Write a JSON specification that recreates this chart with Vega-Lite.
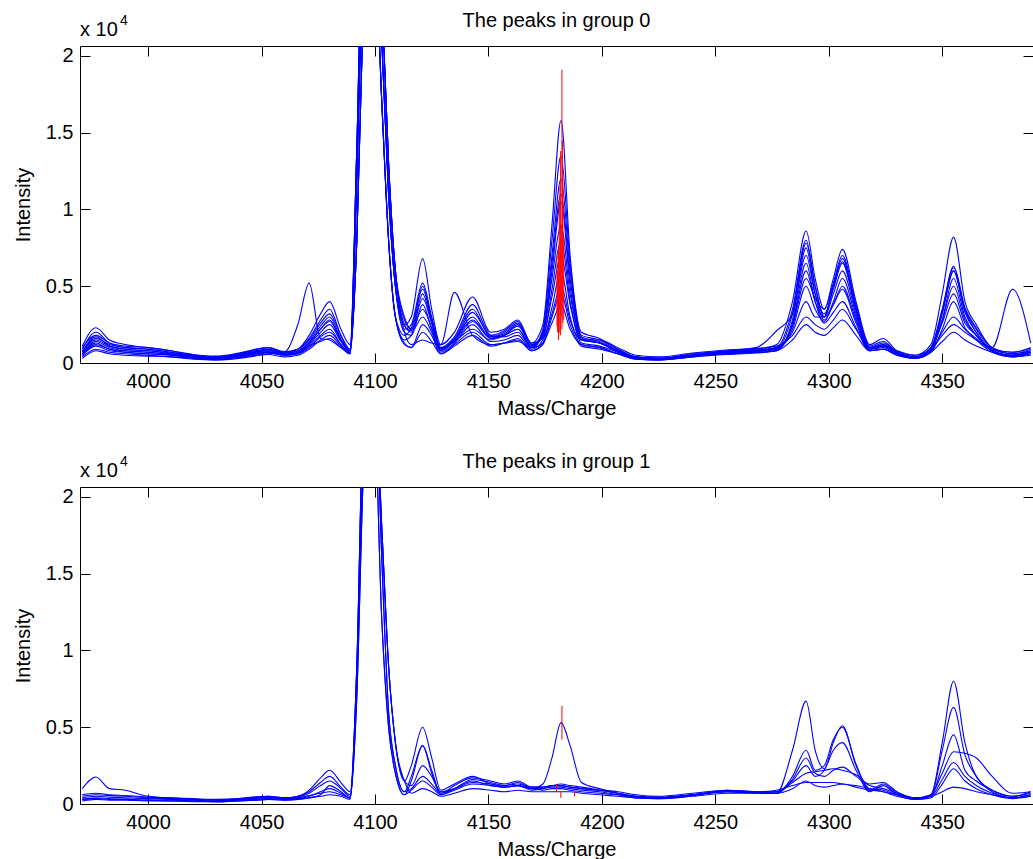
{
"$schema": "https://vega.github.io/schema/vega-lite/v6.json",
"padding": {"left": 12, "top": 10, "right": 0, "bottom": 0},
"background": "white",
"bounds": "flush",
"spacing": 124,
"config": {
  "view": {"stroke": "#000", "strokeWidth": 1},
  "font": "Liberation Sans",
  "axis": {"labelFont": "Liberation Sans", "labelFontSize": 20, "labelColor": "#000", "titleFont": "Liberation Sans", "titleFontSize": 20, "titleFontWeight": "normal", "titleColor": "#000", "tickColor": "#000", "domain": false, "grid": false, "tickSize": -10, "ticks": true, "labelFlush": false, "labelOverlap": false}
},
"datasets": {
"lab": [{"t": "x 10", "e": "4", "h0": "The peaks in group 0", "h1": "The peaks in group 1"}],
"pk0": [
{"x":4182.4,"y1":2200,"y2":19100},{"x":4181.8,"y1":1800,"y2":13800},{"x":4182.8,"y1":2600,"y2":12000},{"x":4181.2,"y1":2000,"y2":10500},{"x":4182.1,"y1":3000,"y2":9000},{"x":4180.9,"y1":1500,"y2":7500},{"x":4183.2,"y1":2800,"y2":8200},{"x":4180.5,"y1":2000,"y2":6000},{"x":4181.5,"y1":3500,"y2":11500},{"x":4182.6,"y1":4000,"y2":14500},{"x":4181.0,"y1":1900,"y2":5500},{"x":4180.2,"y1":2400,"y2":7000}
],
"pk1": [
{"x":4182.4,"y1":4200,"y2":6400},{"x":4180.0,"y1":850,"y2":1300},{"x":4181.9,"y1":400,"y2":800},{"x":4187.9,"y1":500,"y2":870}
],
"g0": [
{"s":1,"x":3971,"y":900},{"s":1,"x":3977,"y":2000},{"s":1,"x":3983,"y":1300},{"s":1,"x":3990,"y":1000},{"s":1,"x":4000,"y":900},{"s":1,"x":4010,"y":700},{"s":1,"x":4020,"y":500},{"s":1,"x":4030,"y":400},{"s":1,"x":4040,"y":600},{"s":1,"x":4047,"y":800},{"s":1,"x":4053,"y":900},{"s":1,"x":4060,"y":700},{"s":1,"x":4066,"y":900},{"s":1,"x":4071,"y":1600},{"s":1,"x":4076,"y":2800},{"s":1,"x":4080,"y":3500},{"s":1,"x":4085,"y":1800},{"s":1,"x":4089,"y":900},{"s":1,"x":4092,"y":12000},{"s":1,"x":4095,"y":28000},{"s":1,"x":4099,"y":36000},{"s":1,"x":4103,"y":21000},{"s":1,"x":4106,"y":11000},{"s":1,"x":4109,"y":5000},{"s":1,"x":4113,"y":2500},{"s":1,"x":4116,"y":3000},{"s":1,"x":4121,"y":6800},{"s":1,"x":4125,"y":3500},{"s":1,"x":4129,"y":1200},{"s":1,"x":4135,"y":2000},{"s":1,"x":4143,"y":4300},{"s":1,"x":4151,"y":2000},{"s":1,"x":4157,"y":2200},{"s":1,"x":4163,"y":2800},{"s":1,"x":4169,"y":1300},{"s":1,"x":4174,"y":2500},{"s":1,"x":4178,"y":9000},{"s":1,"x":4182,"y":15800},{"s":1,"x":4186,"y":7000},{"s":1,"x":4191,"y":2000},{"s":1,"x":4199,"y":1600},{"s":1,"x":4207,"y":900},{"s":1,"x":4215,"y":400},{"s":1,"x":4225,"y":300},{"s":1,"x":4240,"y":600},{"s":1,"x":4255,"y":800},{"s":1,"x":4268,"y":900},{"s":1,"x":4277,"y":1200},{"s":1,"x":4284,"y":4000},{"s":1,"x":4290,"y":8600},{"s":1,"x":4294,"y":5500},{"s":1,"x":4298,"y":3500},{"s":1,"x":4302,"y":5500},{"s":1,"x":4306,"y":7400},{"s":1,"x":4312,"y":4000},{"s":1,"x":4318,"y":1200},{"s":1,"x":4324,"y":1600},{"s":1,"x":4330,"y":800},{"s":1,"x":4338,"y":500},{"s":1,"x":4345,"y":1200},{"s":1,"x":4350,"y":4500},{"s":1,"x":4355,"y":8200},{"s":1,"x":4360,"y":4000},{"s":1,"x":4365,"y":2500},{"s":1,"x":4372,"y":1000},{"s":1,"x":4381,"y":700},{"s":1,"x":4389,"y":1000},
{"s":2,"x":3971,"y":700},{"s":2,"x":3977,"y":1700},{"s":2,"x":3983,"y":1100},{"s":2,"x":3990,"y":900},{"s":2,"x":4000,"y":800},{"s":2,"x":4010,"y":600},{"s":2,"x":4020,"y":400},{"s":2,"x":4030,"y":300},{"s":2,"x":4040,"y":500},{"s":2,"x":4047,"y":700},{"s":2,"x":4053,"y":800},{"s":2,"x":4060,"y":600},{"s":2,"x":4066,"y":700},{"s":2,"x":4071,"y":1300},{"s":2,"x":4076,"y":2200},{"s":2,"x":4080,"y":2800},{"s":2,"x":4085,"y":1500},{"s":2,"x":4089,"y":700},{"s":2,"x":4092,"y":8000},{"s":2,"x":4095,"y":24000},{"s":2,"x":4099,"y":34000},{"s":2,"x":4103,"y":24000},{"s":2,"x":4106,"y":13000},{"s":2,"x":4109,"y":6000},{"s":2,"x":4113,"y":3000},{"s":2,"x":4116,"y":2200},{"s":2,"x":4121,"y":5000},{"s":2,"x":4125,"y":2800},{"s":2,"x":4129,"y":900},{"s":2,"x":4135,"y":1600},{"s":2,"x":4143,"y":3500},{"s":2,"x":4151,"y":1700},{"s":2,"x":4157,"y":1900},{"s":2,"x":4163,"y":2500},{"s":2,"x":4169,"y":1100},{"s":2,"x":4174,"y":2000},{"s":2,"x":4178,"y":6500},{"s":2,"x":4182,"y":11000},{"s":2,"x":4186,"y":5500},{"s":2,"x":4191,"y":1700},{"s":2,"x":4199,"y":1400},{"s":2,"x":4207,"y":800},{"s":2,"x":4215,"y":350},{"s":2,"x":4225,"y":300},{"s":2,"x":4240,"y":500},{"s":2,"x":4255,"y":700},{"s":2,"x":4268,"y":800},{"s":2,"x":4277,"y":1000},{"s":2,"x":4284,"y":3500},{"s":2,"x":4290,"y":8000},{"s":2,"x":4294,"y":5000},{"s":2,"x":4298,"y":3000},{"s":2,"x":4302,"y":5000},{"s":2,"x":4306,"y":6800},{"s":2,"x":4312,"y":3600},{"s":2,"x":4318,"y":1000},{"s":2,"x":4324,"y":1300},{"s":2,"x":4330,"y":700},{"s":2,"x":4338,"y":400},{"s":2,"x":4345,"y":1000},{"s":2,"x":4350,"y":3500},{"s":2,"x":4355,"y":6200},{"s":2,"x":4360,"y":3500},{"s":2,"x":4365,"y":2200},{"s":2,"x":4372,"y":900},{"s":2,"x":4381,"y":600},{"s":2,"x":4389,"y":800},
{"s":3,"x":3971,"y":1100},{"s":3,"x":3977,"y":2300},{"s":3,"x":3983,"y":1500},{"s":3,"x":3990,"y":1200},{"s":3,"x":4000,"y":1000},{"s":3,"x":4010,"y":800},{"s":3,"x":4020,"y":500},{"s":3,"x":4030,"y":400},{"s":3,"x":4040,"y":600},{"s":3,"x":4047,"y":900},{"s":3,"x":4053,"y":1000},{"s":3,"x":4060,"y":700},{"s":3,"x":4066,"y":900},{"s":3,"x":4071,"y":1800},{"s":3,"x":4076,"y":3200},{"s":3,"x":4080,"y":4000},{"s":3,"x":4085,"y":2200},{"s":3,"x":4089,"y":1200},{"s":3,"x":4092,"y":14000},{"s":3,"x":4095,"y":30000},{"s":3,"x":4099,"y":30000},{"s":3,"x":4103,"y":17000},{"s":3,"x":4106,"y":8000},{"s":3,"x":4109,"y":3000},{"s":3,"x":4113,"y":1500},{"s":3,"x":4116,"y":1800},{"s":3,"x":4121,"y":4500},{"s":3,"x":4125,"y":2600},{"s":3,"x":4129,"y":800},{"s":3,"x":4135,"y":1500},{"s":3,"x":4143,"y":3000},{"s":3,"x":4151,"y":1600},{"s":3,"x":4157,"y":1800},{"s":3,"x":4163,"y":2200},{"s":3,"x":4169,"y":1000},{"s":3,"x":4174,"y":1800},{"s":3,"x":4178,"y":6000},{"s":3,"x":4182,"y":10500},{"s":3,"x":4186,"y":5000},{"s":3,"x":4191,"y":1500},{"s":3,"x":4199,"y":1300},{"s":3,"x":4207,"y":700},{"s":3,"x":4215,"y":300},{"s":3,"x":4225,"y":250},{"s":3,"x":4240,"y":500},{"s":3,"x":4255,"y":800},{"s":3,"x":4268,"y":1000},{"s":3,"x":4277,"y":2100},{"s":3,"x":4284,"y":3200},{"s":3,"x":4290,"y":7000},{"s":3,"x":4294,"y":4500},{"s":3,"x":4298,"y":3200},{"s":3,"x":4302,"y":4800},{"s":3,"x":4306,"y":6500},{"s":3,"x":4312,"y":3400},{"s":3,"x":4318,"y":900},{"s":3,"x":4324,"y":1200},{"s":3,"x":4330,"y":600},{"s":3,"x":4338,"y":350},{"s":3,"x":4345,"y":900},{"s":3,"x":4350,"y":3300},{"s":3,"x":4355,"y":6000},{"s":3,"x":4360,"y":3400},{"s":3,"x":4365,"y":2000},{"s":3,"x":4372,"y":800},{"s":3,"x":4381,"y":500},{"s":3,"x":4389,"y":700},
{"s":4,"x":3971,"y":500},{"s":4,"x":3977,"y":1200},{"s":4,"x":3983,"y":900},{"s":4,"x":3990,"y":700},{"s":4,"x":4000,"y":600},{"s":4,"x":4010,"y":500},{"s":4,"x":4020,"y":350},{"s":4,"x":4030,"y":250},{"s":4,"x":4040,"y":400},{"s":4,"x":4047,"y":600},{"s":4,"x":4053,"y":700},{"s":4,"x":4060,"y":500},{"s":4,"x":4066,"y":600},{"s":4,"x":4071,"y":1000},{"s":4,"x":4076,"y":1700},{"s":4,"x":4080,"y":2000},{"s":4,"x":4085,"y":1200},{"s":4,"x":4089,"y":600},{"s":4,"x":4092,"y":12000},{"s":4,"x":4095,"y":28000},{"s":4,"x":4099,"y":36000},{"s":4,"x":4103,"y":21000},{"s":4,"x":4106,"y":11000},{"s":4,"x":4109,"y":5000},{"s":4,"x":4113,"y":2000},{"s":4,"x":4116,"y":1800},{"s":4,"x":4121,"y":3800},{"s":4,"x":4125,"y":2200},{"s":4,"x":4129,"y":700},{"s":4,"x":4135,"y":1300},{"s":4,"x":4143,"y":2500},{"s":4,"x":4151,"y":1400},{"s":4,"x":4157,"y":1500},{"s":4,"x":4163,"y":1800},{"s":4,"x":4169,"y":900},{"s":4,"x":4174,"y":1500},{"s":4,"x":4178,"y":4800},{"s":4,"x":4182,"y":8000},{"s":4,"x":4186,"y":4000},{"s":4,"x":4191,"y":1300},{"s":4,"x":4199,"y":1100},{"s":4,"x":4207,"y":700},{"s":4,"x":4215,"y":300},{"s":4,"x":4225,"y":200},{"s":4,"x":4240,"y":450},{"s":4,"x":4255,"y":650},{"s":4,"x":4268,"y":750},{"s":4,"x":4277,"y":900},{"s":4,"x":4284,"y":2500},{"s":4,"x":4290,"y":6000},{"s":4,"x":4294,"y":4000},{"s":4,"x":4298,"y":3000},{"s":4,"x":4302,"y":4500},{"s":4,"x":4306,"y":6000},{"s":4,"x":4312,"y":3200},{"s":4,"x":4318,"y":900},{"s":4,"x":4324,"y":1000},{"s":4,"x":4330,"y":600},{"s":4,"x":4338,"y":300},{"s":4,"x":4345,"y":800},{"s":4,"x":4350,"y":2800},{"s":4,"x":4355,"y":5000},{"s":4,"x":4360,"y":2800},{"s":4,"x":4365,"y":1800},{"s":4,"x":4372,"y":800},{"s":4,"x":4381,"y":450},{"s":4,"x":4389,"y":600},
{"s":5,"x":3971,"y":800},{"s":5,"x":3977,"y":1600},{"s":5,"x":3983,"y":1200},{"s":5,"x":3990,"y":1000},{"s":5,"x":4000,"y":900},{"s":5,"x":4010,"y":700},{"s":5,"x":4020,"y":450},{"s":5,"x":4030,"y":350},{"s":5,"x":4040,"y":550},{"s":5,"x":4047,"y":750},{"s":5,"x":4053,"y":900},{"s":5,"x":4060,"y":650},{"s":5,"x":4066,"y":800},{"s":5,"x":4071,"y":1400},{"s":5,"x":4076,"y":2400},{"s":5,"x":4080,"y":3000},{"s":5,"x":4085,"y":1600},{"s":5,"x":4089,"y":800},{"s":5,"x":4092,"y":8000},{"s":5,"x":4095,"y":24000},{"s":5,"x":4099,"y":34000},{"s":5,"x":4103,"y":24000},{"s":5,"x":4106,"y":13000},{"s":5,"x":4109,"y":6000},{"s":5,"x":4113,"y":2500},{"s":5,"x":4116,"y":2000},{"s":5,"x":4121,"y":3000},{"s":5,"x":4125,"y":2000},{"s":5,"x":4129,"y":800},{"s":5,"x":4135,"y":1500},{"s":5,"x":4143,"y":2800},{"s":5,"x":4151,"y":1700},{"s":5,"x":4157,"y":2000},{"s":5,"x":4163,"y":2600},{"s":5,"x":4169,"y":1200},{"s":5,"x":4174,"y":1700},{"s":5,"x":4178,"y":4300},{"s":5,"x":4182,"y":7000},{"s":5,"x":4186,"y":3800},{"s":5,"x":4191,"y":1500},{"s":5,"x":4199,"y":1300},{"s":5,"x":4207,"y":800},{"s":5,"x":4215,"y":400},{"s":5,"x":4225,"y":300},{"s":5,"x":4240,"y":550},{"s":5,"x":4255,"y":750},{"s":5,"x":4268,"y":850},{"s":5,"x":4277,"y":1000},{"s":5,"x":4284,"y":2200},{"s":5,"x":4290,"y":5000},{"s":5,"x":4294,"y":3500},{"s":5,"x":4298,"y":2700},{"s":5,"x":4302,"y":4000},{"s":5,"x":4306,"y":5500},{"s":5,"x":4312,"y":3000},{"s":5,"x":4318,"y":1000},{"s":5,"x":4324,"y":1100},{"s":5,"x":4330,"y":700},{"s":5,"x":4338,"y":400},{"s":5,"x":4345,"y":1000},{"s":5,"x":4350,"y":3400},{"s":5,"x":4355,"y":6300},{"s":5,"x":4360,"y":3600},{"s":5,"x":4365,"y":2300},{"s":5,"x":4372,"y":1000},{"s":5,"x":4381,"y":600},{"s":5,"x":4389,"y":900},
{"s":6,"x":3971,"y":400},{"s":6,"x":3977,"y":900},{"s":6,"x":3983,"y":700},{"s":6,"x":3990,"y":600},{"s":6,"x":4000,"y":500},{"s":6,"x":4010,"y":400},{"s":6,"x":4020,"y":300},{"s":6,"x":4030,"y":200},{"s":6,"x":4040,"y":350},{"s":6,"x":4047,"y":500},{"s":6,"x":4053,"y":600},{"s":6,"x":4060,"y":700},{"s":6,"x":4066,"y":2500},{"s":6,"x":4071,"y":5200},{"s":6,"x":4076,"y":1600},{"s":6,"x":4080,"y":1500},{"s":6,"x":4085,"y":1000},{"s":6,"x":4089,"y":700},{"s":6,"x":4092,"y":14000},{"s":6,"x":4095,"y":30000},{"s":6,"x":4099,"y":30000},{"s":6,"x":4103,"y":17000},{"s":6,"x":4106,"y":8000},{"s":6,"x":4109,"y":3000},{"s":6,"x":4113,"y":1200},{"s":6,"x":4116,"y":1000},{"s":6,"x":4121,"y":2500},{"s":6,"x":4125,"y":1800},{"s":6,"x":4129,"y":600},{"s":6,"x":4135,"y":1200},{"s":6,"x":4143,"y":2000},{"s":6,"x":4151,"y":1200},{"s":6,"x":4157,"y":1300},{"s":6,"x":4163,"y":1500},{"s":6,"x":4169,"y":800},{"s":6,"x":4174,"y":1300},{"s":6,"x":4178,"y":3600},{"s":6,"x":4182,"y":6000},{"s":6,"x":4186,"y":3000},{"s":6,"x":4191,"y":1200},{"s":6,"x":4199,"y":1000},{"s":6,"x":4207,"y":600},{"s":6,"x":4215,"y":250},{"s":6,"x":4225,"y":200},{"s":6,"x":4240,"y":400},{"s":6,"x":4255,"y":600},{"s":6,"x":4268,"y":700},{"s":6,"x":4277,"y":800},{"s":6,"x":4284,"y":2800},{"s":6,"x":4290,"y":7500},{"s":6,"x":4294,"y":4500},{"s":6,"x":4298,"y":2800},{"s":6,"x":4302,"y":3800},{"s":6,"x":4306,"y":4800},{"s":6,"x":4312,"y":2600},{"s":6,"x":4318,"y":800},{"s":6,"x":4324,"y":900},{"s":6,"x":4330,"y":500},{"s":6,"x":4338,"y":300},{"s":6,"x":4345,"y":700},{"s":6,"x":4350,"y":2200},{"s":6,"x":4355,"y":4000},{"s":6,"x":4360,"y":2300},{"s":6,"x":4365,"y":1500},{"s":6,"x":4372,"y":700},{"s":6,"x":4381,"y":400},{"s":6,"x":4389,"y":500},
{"s":7,"x":3971,"y":600},{"s":7,"x":3977,"y":1400},{"s":7,"x":3983,"y":1000},{"s":7,"x":3990,"y":800},{"s":7,"x":4000,"y":700},{"s":7,"x":4010,"y":550},{"s":7,"x":4020,"y":400},{"s":7,"x":4030,"y":300},{"s":7,"x":4040,"y":450},{"s":7,"x":4047,"y":650},{"s":7,"x":4053,"y":750},{"s":7,"x":4060,"y":550},{"s":7,"x":4066,"y":650},{"s":7,"x":4071,"y":1200},{"s":7,"x":4076,"y":2000},{"s":7,"x":4080,"y":2500},{"s":7,"x":4085,"y":1400},{"s":7,"x":4089,"y":700},{"s":7,"x":4092,"y":12000},{"s":7,"x":4095,"y":28000},{"s":7,"x":4099,"y":36000},{"s":7,"x":4103,"y":21000},{"s":7,"x":4106,"y":11000},{"s":7,"x":4109,"y":5000},{"s":7,"x":4113,"y":2200},{"s":7,"x":4116,"y":2500},{"s":7,"x":4121,"y":5200},{"s":7,"x":4125,"y":3000},{"s":7,"x":4129,"y":1000},{"s":7,"x":4135,"y":1700},{"s":7,"x":4143,"y":3800},{"s":7,"x":4151,"y":1800},{"s":7,"x":4157,"y":1700},{"s":7,"x":4163,"y":2000},{"s":7,"x":4169,"y":1000},{"s":7,"x":4174,"y":2200},{"s":7,"x":4178,"y":8000},{"s":7,"x":4182,"y":13500},{"s":7,"x":4186,"y":6500},{"s":7,"x":4191,"y":1800},{"s":7,"x":4199,"y":1500},{"s":7,"x":4207,"y":900},{"s":7,"x":4215,"y":400},{"s":7,"x":4225,"y":300},{"s":7,"x":4240,"y":500},{"s":7,"x":4255,"y":700},{"s":7,"x":4268,"y":800},{"s":7,"x":4277,"y":900},{"s":7,"x":4284,"y":2000},{"s":7,"x":4290,"y":4000},{"s":7,"x":4294,"y":3000},{"s":7,"x":4298,"y":3000},{"s":7,"x":4302,"y":5000},{"s":7,"x":4306,"y":6600},{"s":7,"x":4312,"y":3500},{"s":7,"x":4318,"y":1100},{"s":7,"x":4324,"y":1400},{"s":7,"x":4330,"y":700},{"s":7,"x":4338,"y":400},{"s":7,"x":4345,"y":800},{"s":7,"x":4350,"y":2000},{"s":7,"x":4355,"y":3000},{"s":7,"x":4360,"y":2200},{"s":7,"x":4365,"y":1600},{"s":7,"x":4372,"y":800},{"s":7,"x":4381,"y":500},{"s":7,"x":4389,"y":700},
{"s":8,"x":3971,"y":1000},{"s":8,"x":3977,"y":1800},{"s":8,"x":3983,"y":1300},{"s":8,"x":3990,"y":1100},{"s":8,"x":4000,"y":1000},{"s":8,"x":4010,"y":800},{"s":8,"x":4020,"y":550},{"s":8,"x":4030,"y":450},{"s":8,"x":4040,"y":650},{"s":8,"x":4047,"y":850},{"s":8,"x":4053,"y":1000},{"s":8,"x":4060,"y":750},{"s":8,"x":4066,"y":900},{"s":8,"x":4071,"y":1500},{"s":8,"x":4076,"y":2600},{"s":8,"x":4080,"y":3200},{"s":8,"x":4085,"y":1800},{"s":8,"x":4089,"y":900},{"s":8,"x":4092,"y":8000},{"s":8,"x":4095,"y":24000},{"s":8,"x":4099,"y":34000},{"s":8,"x":4103,"y":24000},{"s":8,"x":4106,"y":13000},{"s":8,"x":4109,"y":6000},{"s":8,"x":4113,"y":2800},{"s":8,"x":4116,"y":2200},{"s":8,"x":4121,"y":3500},{"s":8,"x":4125,"y":2300},{"s":8,"x":4129,"y":1000},{"s":8,"x":4135,"y":1400},{"s":8,"x":4143,"y":2200},{"s":8,"x":4151,"y":1500},{"s":8,"x":4157,"y":1800},{"s":8,"x":4163,"y":2400},{"s":8,"x":4169,"y":1300},{"s":8,"x":4174,"y":1600},{"s":8,"x":4178,"y":3200},{"s":8,"x":4182,"y":5000},{"s":8,"x":4186,"y":2800},{"s":8,"x":4191,"y":1500},{"s":8,"x":4199,"y":1500},{"s":8,"x":4207,"y":1000},{"s":8,"x":4215,"y":500},{"s":8,"x":4225,"y":400},{"s":8,"x":4240,"y":650},{"s":8,"x":4255,"y":850},{"s":8,"x":4268,"y":950},{"s":8,"x":4277,"y":1100},{"s":8,"x":4284,"y":1800},{"s":8,"x":4290,"y":3000},{"s":8,"x":4294,"y":2500},{"s":8,"x":4298,"y":2200},{"s":8,"x":4302,"y":2800},{"s":8,"x":4306,"y":3500},{"s":8,"x":4312,"y":2200},{"s":8,"x":4318,"y":1000},{"s":8,"x":4324,"y":1100},{"s":8,"x":4330,"y":800},{"s":8,"x":4338,"y":500},{"s":8,"x":4345,"y":900},{"s":8,"x":4350,"y":1800},{"s":8,"x":4355,"y":2500},{"s":8,"x":4360,"y":2000},{"s":8,"x":4365,"y":1500},{"s":8,"x":4372,"y":900},{"s":8,"x":4381,"y":700},{"s":8,"x":4389,"y":1000},
{"s":9,"x":3971,"y":300},{"s":9,"x":3977,"y":800},{"s":9,"x":3983,"y":600},{"s":9,"x":3990,"y":500},{"s":9,"x":4000,"y":450},{"s":9,"x":4010,"y":400},{"s":9,"x":4020,"y":250},{"s":9,"x":4030,"y":200},{"s":9,"x":4040,"y":300},{"s":9,"x":4047,"y":450},{"s":9,"x":4053,"y":550},{"s":9,"x":4060,"y":400},{"s":9,"x":4066,"y":500},{"s":9,"x":4071,"y":900},{"s":9,"x":4076,"y":1500},{"s":9,"x":4080,"y":1800},{"s":9,"x":4085,"y":1100},{"s":9,"x":4089,"y":600},{"s":9,"x":4092,"y":14000},{"s":9,"x":4095,"y":30000},{"s":9,"x":4099,"y":30000},{"s":9,"x":4103,"y":17000},{"s":9,"x":4106,"y":8000},{"s":9,"x":4109,"y":3000},{"s":9,"x":4113,"y":1300},{"s":9,"x":4116,"y":1000},{"s":9,"x":4121,"y":2000},{"s":9,"x":4125,"y":1400},{"s":9,"x":4129,"y":600},{"s":9,"x":4135,"y":1100},{"s":9,"x":4143,"y":1800},{"s":9,"x":4151,"y":1100},{"s":9,"x":4157,"y":1300},{"s":9,"x":4163,"y":1600},{"s":9,"x":4169,"y":800},{"s":9,"x":4174,"y":1200},{"s":9,"x":4178,"y":3000},{"s":9,"x":4182,"y":4500},{"s":9,"x":4186,"y":2500},{"s":9,"x":4191,"y":1100},{"s":9,"x":4199,"y":900},{"s":9,"x":4207,"y":600},{"s":9,"x":4215,"y":250},{"s":9,"x":4225,"y":200},{"s":9,"x":4240,"y":400},{"s":9,"x":4255,"y":550},{"s":9,"x":4268,"y":650},{"s":9,"x":4277,"y":800},{"s":9,"x":4284,"y":2600},{"s":9,"x":4290,"y":6500},{"s":9,"x":4294,"y":4000},{"s":9,"x":4298,"y":2600},{"s":9,"x":4302,"y":3300},{"s":9,"x":4306,"y":4000},{"s":9,"x":4312,"y":2300},{"s":9,"x":4318,"y":800},{"s":9,"x":4324,"y":900},{"s":9,"x":4330,"y":500},{"s":9,"x":4338,"y":300},{"s":9,"x":4345,"y":800},{"s":9,"x":4350,"y":2800},{"s":9,"x":4355,"y":5500},{"s":9,"x":4360,"y":3000},{"s":9,"x":4365,"y":1800},{"s":9,"x":4372,"y":1000},{"s":9,"x":4381,"y":4800},{"s":9,"x":4389,"y":1300},
{"s":10,"x":3971,"y":700},{"s":10,"x":3977,"y":1500},{"s":10,"x":3983,"y":1100},{"s":10,"x":3990,"y":900},{"s":10,"x":4000,"y":800},{"s":10,"x":4010,"y":650},{"s":10,"x":4020,"y":450},{"s":10,"x":4030,"y":350},{"s":10,"x":4040,"y":500},{"s":10,"x":4047,"y":700},{"s":10,"x":4053,"y":850},{"s":10,"x":4060,"y":650},{"s":10,"x":4066,"y":750},{"s":10,"x":4071,"y":1300},{"s":10,"x":4076,"y":2200},{"s":10,"x":4080,"y":2700},{"s":10,"x":4085,"y":1500},{"s":10,"x":4089,"y":800},{"s":10,"x":4092,"y":12000},{"s":10,"x":4095,"y":28000},{"s":10,"x":4099,"y":36000},{"s":10,"x":4103,"y":21000},{"s":10,"x":4106,"y":11000},{"s":10,"x":4109,"y":5000},{"s":10,"x":4113,"y":2400},{"s":10,"x":4116,"y":2100},{"s":10,"x":4121,"y":4200},{"s":10,"x":4125,"y":2600},{"s":10,"x":4129,"y":900},{"s":10,"x":4135,"y":1500},{"s":10,"x":4143,"y":3300},{"s":10,"x":4151,"y":1800},{"s":10,"x":4157,"y":2100},{"s":10,"x":4163,"y":2700},{"s":10,"x":4169,"y":1200},{"s":10,"x":4174,"y":1900},{"s":10,"x":4178,"y":5500},{"s":10,"x":4182,"y":9000},{"s":10,"x":4186,"y":4500},{"s":10,"x":4191,"y":1600},{"s":10,"x":4199,"y":1300},{"s":10,"x":4207,"y":800},{"s":10,"x":4215,"y":350},{"s":10,"x":4225,"y":300},{"s":10,"x":4240,"y":500},{"s":10,"x":4255,"y":700},{"s":10,"x":4268,"y":850},{"s":10,"x":4277,"y":950},{"s":10,"x":4284,"y":2400},{"s":10,"x":4290,"y":5500},{"s":10,"x":4294,"y":4200},{"s":10,"x":4298,"y":3500},{"s":10,"x":4302,"y":5200},{"s":10,"x":4306,"y":7000},{"s":10,"x":4312,"y":3800},{"s":10,"x":4318,"y":1000},{"s":10,"x":4324,"y":1200},{"s":10,"x":4330,"y":700},{"s":10,"x":4338,"y":350},{"s":10,"x":4345,"y":900},{"s":10,"x":4350,"y":2600},{"s":10,"x":4355,"y":4500},{"s":10,"x":4360,"y":2600},{"s":10,"x":4365,"y":1800},{"s":10,"x":4372,"y":800},{"s":10,"x":4381,"y":500},{"s":10,"x":4389,"y":800},
{"s":11,"x":3971,"y":500},{"s":11,"x":3977,"y":1100},{"s":11,"x":3983,"y":800},{"s":11,"x":3990,"y":700},{"s":11,"x":4000,"y":600},{"s":11,"x":4010,"y":500},{"s":11,"x":4020,"y":350},{"s":11,"x":4030,"y":250},{"s":11,"x":4040,"y":400},{"s":11,"x":4047,"y":550},{"s":11,"x":4053,"y":650},{"s":11,"x":4060,"y":500},{"s":11,"x":4066,"y":600},{"s":11,"x":4071,"y":1100},{"s":11,"x":4076,"y":1800},{"s":11,"x":4080,"y":2200},{"s":11,"x":4085,"y":1200},{"s":11,"x":4089,"y":600},{"s":11,"x":4092,"y":8000},{"s":11,"x":4095,"y":24000},{"s":11,"x":4099,"y":34000},{"s":11,"x":4103,"y":24000},{"s":11,"x":4106,"y":13000},{"s":11,"x":4109,"y":6000},{"s":11,"x":4113,"y":2000},{"s":11,"x":4116,"y":1200},{"s":11,"x":4121,"y":1500},{"s":11,"x":4125,"y":1300},{"s":11,"x":4129,"y":1200},{"s":11,"x":4135,"y":4600},{"s":11,"x":4143,"y":1800},{"s":11,"x":4151,"y":1200},{"s":11,"x":4157,"y":1300},{"s":11,"x":4163,"y":1400},{"s":11,"x":4169,"y":1000},{"s":11,"x":4174,"y":1300},{"s":11,"x":4178,"y":2600},{"s":11,"x":4182,"y":3800},{"s":11,"x":4186,"y":2200},{"s":11,"x":4191,"y":1200},{"s":11,"x":4199,"y":1000},{"s":11,"x":4207,"y":600},{"s":11,"x":4215,"y":300},{"s":11,"x":4225,"y":250},{"s":11,"x":4240,"y":450},{"s":11,"x":4255,"y":600},{"s":11,"x":4268,"y":700},{"s":11,"x":4277,"y":800},{"s":11,"x":4284,"y":1500},{"s":11,"x":4290,"y":2500},{"s":11,"x":4294,"y":2000},{"s":11,"x":4298,"y":1800},{"s":11,"x":4302,"y":2300},{"s":11,"x":4306,"y":2800},{"s":11,"x":4312,"y":1800},{"s":11,"x":4318,"y":800},{"s":11,"x":4324,"y":900},{"s":11,"x":4330,"y":600},{"s":11,"x":4338,"y":300},{"s":11,"x":4345,"y":700},{"s":11,"x":4350,"y":1400},{"s":11,"x":4355,"y":2000},{"s":11,"x":4360,"y":1500},{"s":11,"x":4365,"y":1100},{"s":11,"x":4372,"y":700},{"s":11,"x":4381,"y":400},{"s":11,"x":4389,"y":600},
{"s":12,"x":3971,"y":600},{"s":12,"x":3977,"y":1300},{"s":12,"x":3983,"y":900},{"s":12,"x":3990,"y":800},{"s":12,"x":4000,"y":700},{"s":12,"x":4010,"y":550},{"s":12,"x":4020,"y":400},{"s":12,"x":4030,"y":300},{"s":12,"x":4040,"y":450},{"s":12,"x":4047,"y":600},{"s":12,"x":4053,"y":700},{"s":12,"x":4060,"y":550},{"s":12,"x":4066,"y":650},{"s":12,"x":4071,"y":1100},{"s":12,"x":4076,"y":1400},{"s":12,"x":4080,"y":1600},{"s":12,"x":4085,"y":1000},{"s":12,"x":4089,"y":600},{"s":12,"x":4092,"y":14000},{"s":12,"x":4095,"y":30000},{"s":12,"x":4099,"y":30000},{"s":12,"x":4103,"y":17000},{"s":12,"x":4106,"y":8000},{"s":12,"x":4109,"y":3000},{"s":12,"x":4113,"y":1800},{"s":12,"x":4116,"y":2300},{"s":12,"x":4121,"y":4800},{"s":12,"x":4125,"y":2800},{"s":12,"x":4129,"y":900},{"s":12,"x":4135,"y":1400},{"s":12,"x":4143,"y":2700},{"s":12,"x":4151,"y":1600},{"s":12,"x":4157,"y":1800},{"s":12,"x":4163,"y":2200},{"s":12,"x":4169,"y":1100},{"s":12,"x":4174,"y":1900},{"s":12,"x":4178,"y":7000},{"s":12,"x":4182,"y":12000},{"s":12,"x":4186,"y":6000},{"s":12,"x":4191,"y":1600},{"s":12,"x":4199,"y":1300},{"s":12,"x":4207,"y":800},{"s":12,"x":4215,"y":350},{"s":12,"x":4225,"y":250},{"s":12,"x":4240,"y":500},{"s":12,"x":4255,"y":700},{"s":12,"x":4268,"y":800},{"s":12,"x":4277,"y":900},{"s":12,"x":4284,"y":3200},{"s":12,"x":4290,"y":7800},{"s":12,"x":4294,"y":5000},{"s":12,"x":4298,"y":3000},{"s":12,"x":4302,"y":3800},{"s":12,"x":4306,"y":5000},{"s":12,"x":4312,"y":2800},{"s":12,"x":4318,"y":900},{"s":12,"x":4324,"y":1100},{"s":12,"x":4330,"y":600},{"s":12,"x":4338,"y":350},{"s":12,"x":4345,"y":900},{"s":12,"x":4350,"y":3200},{"s":12,"x":4355,"y":6000},{"s":12,"x":4360,"y":3300},{"s":12,"x":4365,"y":2000},{"s":12,"x":4372,"y":800},{"s":12,"x":4381,"y":500},{"s":12,"x":4389,"y":700}
],
"g1": [
{"s":1,"x":3971,"y":1000},{"s":1,"x":3977,"y":1760},{"s":1,"x":3983,"y":1000},{"s":1,"x":3990,"y":900},{"s":1,"x":4000,"y":500},{"s":1,"x":4010,"y":400},{"s":1,"x":4020,"y":300},{"s":1,"x":4030,"y":250},{"s":1,"x":4040,"y":350},{"s":1,"x":4047,"y":450},{"s":1,"x":4053,"y":500},{"s":1,"x":4060,"y":400},{"s":1,"x":4066,"y":500},{"s":1,"x":4071,"y":900},{"s":1,"x":4076,"y":1700},{"s":1,"x":4080,"y":2200},{"s":1,"x":4085,"y":1400},{"s":1,"x":4089,"y":800},{"s":1,"x":4092,"y":9000},{"s":1,"x":4095,"y":26000},{"s":1,"x":4099,"y":30000},{"s":1,"x":4103,"y":18000},{"s":1,"x":4106,"y":9000},{"s":1,"x":4109,"y":4000},{"s":1,"x":4113,"y":1500},{"s":1,"x":4116,"y":2500},{"s":1,"x":4121,"y":5000},{"s":1,"x":4125,"y":3000},{"s":1,"x":4129,"y":900},{"s":1,"x":4135,"y":1300},{"s":1,"x":4143,"y":1800},{"s":1,"x":4151,"y":1300},{"s":1,"x":4157,"y":1200},{"s":1,"x":4163,"y":1300},{"s":1,"x":4169,"y":1100},{"s":1,"x":4174,"y":1100},{"s":1,"x":4178,"y":1200},{"s":1,"x":4182,"y":1300},{"s":1,"x":4186,"y":1200},{"s":1,"x":4191,"y":1100},{"s":1,"x":4199,"y":900},{"s":1,"x":4207,"y":700},{"s":1,"x":4215,"y":500},{"s":1,"x":4225,"y":400},{"s":1,"x":4240,"y":600},{"s":1,"x":4255,"y":800},{"s":1,"x":4268,"y":700},{"s":1,"x":4277,"y":700},{"s":1,"x":4284,"y":3500},{"s":1,"x":4290,"y":6700},{"s":1,"x":4294,"y":3500},{"s":1,"x":4298,"y":2300},{"s":1,"x":4302,"y":4000},{"s":1,"x":4306,"y":5100},{"s":1,"x":4312,"y":2500},{"s":1,"x":4318,"y":1000},{"s":1,"x":4324,"y":900},{"s":1,"x":4330,"y":600},{"s":1,"x":4338,"y":400},{"s":1,"x":4345,"y":500},{"s":1,"x":4350,"y":2500},{"s":1,"x":4355,"y":4500},{"s":1,"x":4360,"y":2200},{"s":1,"x":4365,"y":1500},{"s":1,"x":4372,"y":900},{"s":1,"x":4381,"y":500},{"s":1,"x":4389,"y":700},
{"s":2,"x":3971,"y":400},{"s":2,"x":3977,"y":500},{"s":2,"x":3983,"y":450},{"s":2,"x":3990,"y":400},{"s":2,"x":4000,"y":350},{"s":2,"x":4010,"y":300},{"s":2,"x":4020,"y":250},{"s":2,"x":4030,"y":200},{"s":2,"x":4040,"y":300},{"s":2,"x":4047,"y":400},{"s":2,"x":4053,"y":450},{"s":2,"x":4060,"y":350},{"s":2,"x":4066,"y":450},{"s":2,"x":4071,"y":700},{"s":2,"x":4076,"y":1200},{"s":2,"x":4080,"y":1500},{"s":2,"x":4085,"y":1000},{"s":2,"x":4089,"y":500},{"s":2,"x":4092,"y":8000},{"s":2,"x":4095,"y":24000},{"s":2,"x":4099,"y":32000},{"s":2,"x":4103,"y":16000},{"s":2,"x":4106,"y":6000},{"s":2,"x":4109,"y":2500},{"s":2,"x":4113,"y":800},{"s":2,"x":4116,"y":1800},{"s":2,"x":4121,"y":3800},{"s":2,"x":4125,"y":2200},{"s":2,"x":4129,"y":700},{"s":2,"x":4135,"y":1000},{"s":2,"x":4143,"y":1600},{"s":2,"x":4151,"y":1400},{"s":2,"x":4157,"y":1200},{"s":2,"x":4163,"y":1400},{"s":2,"x":4169,"y":1000},{"s":2,"x":4174,"y":1300},{"s":2,"x":4178,"y":3000},{"s":2,"x":4182,"y":5300},{"s":2,"x":4186,"y":3800},{"s":2,"x":4191,"y":1400},{"s":2,"x":4199,"y":1000},{"s":2,"x":4207,"y":700},{"s":2,"x":4215,"y":450},{"s":2,"x":4225,"y":400},{"s":2,"x":4240,"y":600},{"s":2,"x":4255,"y":900},{"s":2,"x":4268,"y":800},{"s":2,"x":4277,"y":700},{"s":2,"x":4284,"y":1800},{"s":2,"x":4290,"y":3500},{"s":2,"x":4294,"y":2200},{"s":2,"x":4298,"y":2500},{"s":2,"x":4302,"y":4200},{"s":2,"x":4306,"y":5000},{"s":2,"x":4312,"y":2600},{"s":2,"x":4318,"y":900},{"s":2,"x":4324,"y":1300},{"s":2,"x":4330,"y":700},{"s":2,"x":4338,"y":350},{"s":2,"x":4345,"y":600},{"s":2,"x":4350,"y":4000},{"s":2,"x":4355,"y":8000},{"s":2,"x":4360,"y":4000},{"s":2,"x":4365,"y":1800},{"s":2,"x":4372,"y":900},{"s":2,"x":4381,"y":500},{"s":2,"x":4389,"y":800},
{"s":3,"x":3971,"y":300},{"s":3,"x":3977,"y":350},{"s":3,"x":3983,"y":300},{"s":3,"x":3990,"y":300},{"s":3,"x":4000,"y":250},{"s":3,"x":4010,"y":250},{"s":3,"x":4020,"y":200},{"s":3,"x":4030,"y":150},{"s":3,"x":4040,"y":250},{"s":3,"x":4047,"y":300},{"s":3,"x":4053,"y":350},{"s":3,"x":4060,"y":300},{"s":3,"x":4066,"y":350},{"s":3,"x":4071,"y":500},{"s":3,"x":4076,"y":800},{"s":3,"x":4080,"y":1000},{"s":3,"x":4085,"y":700},{"s":3,"x":4089,"y":400},{"s":3,"x":4092,"y":7000},{"s":3,"x":4095,"y":22000},{"s":3,"x":4099,"y":28000},{"s":3,"x":4103,"y":12000},{"s":3,"x":4106,"y":5000},{"s":3,"x":4109,"y":2000},{"s":3,"x":4113,"y":600},{"s":3,"x":4116,"y":1500},{"s":3,"x":4121,"y":3800},{"s":3,"x":4125,"y":2000},{"s":3,"x":4129,"y":600},{"s":3,"x":4135,"y":1000},{"s":3,"x":4143,"y":1500},{"s":3,"x":4151,"y":1200},{"s":3,"x":4157,"y":1100},{"s":3,"x":4163,"y":1200},{"s":3,"x":4169,"y":900},{"s":3,"x":4174,"y":1000},{"s":3,"x":4178,"y":1100},{"s":3,"x":4182,"y":1100},{"s":3,"x":4186,"y":1000},{"s":3,"x":4191,"y":900},{"s":3,"x":4199,"y":800},{"s":3,"x":4207,"y":600},{"s":3,"x":4215,"y":400},{"s":3,"x":4225,"y":350},{"s":3,"x":4240,"y":550},{"s":3,"x":4255,"y":800},{"s":3,"x":4268,"y":750},{"s":3,"x":4277,"y":700},{"s":3,"x":4284,"y":1500},{"s":3,"x":4290,"y":2500},{"s":3,"x":4294,"y":1800},{"s":3,"x":4298,"y":2200},{"s":3,"x":4302,"y":3500},{"s":3,"x":4306,"y":4000},{"s":3,"x":4312,"y":2200},{"s":3,"x":4318,"y":800},{"s":3,"x":4324,"y":1200},{"s":3,"x":4330,"y":600},{"s":3,"x":4338,"y":300},{"s":3,"x":4345,"y":500},{"s":3,"x":4350,"y":3500},{"s":3,"x":4355,"y":6300},{"s":3,"x":4360,"y":3200},{"s":3,"x":4365,"y":1800},{"s":3,"x":4372,"y":800},{"s":3,"x":4381,"y":400},{"s":3,"x":4389,"y":600},
{"s":4,"x":3971,"y":500},{"s":4,"x":3977,"y":600},{"s":4,"x":3983,"y":550},{"s":4,"x":3990,"y":500},{"s":4,"x":4000,"y":400},{"s":4,"x":4010,"y":350},{"s":4,"x":4020,"y":300},{"s":4,"x":4030,"y":250},{"s":4,"x":4040,"y":300},{"s":4,"x":4047,"y":350},{"s":4,"x":4053,"y":400},{"s":4,"x":4060,"y":350},{"s":4,"x":4066,"y":400},{"s":4,"x":4071,"y":550},{"s":4,"x":4076,"y":700},{"s":4,"x":4080,"y":800},{"s":4,"x":4085,"y":600},{"s":4,"x":4089,"y":400},{"s":4,"x":4092,"y":9000},{"s":4,"x":4095,"y":26000},{"s":4,"x":4099,"y":30000},{"s":4,"x":4103,"y":18000},{"s":4,"x":4106,"y":9000},{"s":4,"x":4109,"y":4000},{"s":4,"x":4113,"y":1500},{"s":4,"x":4116,"y":1200},{"s":4,"x":4121,"y":2500},{"s":4,"x":4125,"y":1800},{"s":4,"x":4129,"y":800},{"s":4,"x":4135,"y":1000},{"s":4,"x":4143,"y":1400},{"s":4,"x":4151,"y":1300},{"s":4,"x":4157,"y":1100},{"s":4,"x":4163,"y":1200},{"s":4,"x":4169,"y":1000},{"s":4,"x":4174,"y":1000},{"s":4,"x":4178,"y":1200},{"s":4,"x":4182,"y":1200},{"s":4,"x":4186,"y":1100},{"s":4,"x":4191,"y":1000},{"s":4,"x":4199,"y":900},{"s":4,"x":4207,"y":800},{"s":4,"x":4215,"y":600},{"s":4,"x":4225,"y":500},{"s":4,"x":4240,"y":700},{"s":4,"x":4255,"y":900},{"s":4,"x":4268,"y":800},{"s":4,"x":4277,"y":800},{"s":4,"x":4284,"y":1400},{"s":4,"x":4290,"y":2000},{"s":4,"x":4294,"y":2100},{"s":4,"x":4298,"y":2200},{"s":4,"x":4302,"y":2300},{"s":4,"x":4306,"y":2200},{"s":4,"x":4312,"y":1900},{"s":4,"x":4318,"y":1200},{"s":4,"x":4324,"y":1000},{"s":4,"x":4330,"y":700},{"s":4,"x":4338,"y":400},{"s":4,"x":4345,"y":600},{"s":4,"x":4350,"y":2000},{"s":4,"x":4355,"y":3400},{"s":4,"x":4360,"y":3300},{"s":4,"x":4365,"y":3000},{"s":4,"x":4372,"y":1800},{"s":4,"x":4381,"y":700},{"s":4,"x":4389,"y":800},
{"s":5,"x":3971,"y":600},{"s":5,"x":3977,"y":700},{"s":5,"x":3983,"y":600},{"s":5,"x":3990,"y":550},{"s":5,"x":4000,"y":450},{"s":5,"x":4010,"y":400},{"s":5,"x":4020,"y":350},{"s":5,"x":4030,"y":300},{"s":5,"x":4040,"y":350},{"s":5,"x":4047,"y":450},{"s":5,"x":4053,"y":500},{"s":5,"x":4060,"y":400},{"s":5,"x":4066,"y":500},{"s":5,"x":4071,"y":800},{"s":5,"x":4076,"y":1400},{"s":5,"x":4080,"y":1800},{"s":5,"x":4085,"y":1100},{"s":5,"x":4089,"y":600},{"s":5,"x":4092,"y":8000},{"s":5,"x":4095,"y":24000},{"s":5,"x":4099,"y":32000},{"s":5,"x":4103,"y":16000},{"s":5,"x":4106,"y":6000},{"s":5,"x":4109,"y":2500},{"s":5,"x":4113,"y":800},{"s":5,"x":4116,"y":1000},{"s":5,"x":4121,"y":1800},{"s":5,"x":4125,"y":1300},{"s":5,"x":4129,"y":700},{"s":5,"x":4135,"y":1200},{"s":5,"x":4143,"y":1700},{"s":5,"x":4151,"y":1500},{"s":5,"x":4157,"y":1300},{"s":5,"x":4163,"y":1500},{"s":5,"x":4169,"y":1100},{"s":5,"x":4174,"y":1100},{"s":5,"x":4178,"y":1200},{"s":5,"x":4182,"y":1200},{"s":5,"x":4186,"y":1100},{"s":5,"x":4191,"y":1000},{"s":5,"x":4199,"y":900},{"s":5,"x":4207,"y":700},{"s":5,"x":4215,"y":500},{"s":5,"x":4225,"y":400},{"s":5,"x":4240,"y":600},{"s":5,"x":4255,"y":800},{"s":5,"x":4268,"y":750},{"s":5,"x":4277,"y":800},{"s":5,"x":4284,"y":1600},{"s":5,"x":4290,"y":3000},{"s":5,"x":4294,"y":2000},{"s":5,"x":4298,"y":1800},{"s":5,"x":4302,"y":2200},{"s":5,"x":4306,"y":2400},{"s":5,"x":4312,"y":1800},{"s":5,"x":4318,"y":1300},{"s":5,"x":4324,"y":1400},{"s":5,"x":4330,"y":800},{"s":5,"x":4338,"y":400},{"s":5,"x":4345,"y":500},{"s":5,"x":4350,"y":1600},{"s":5,"x":4355,"y":2700},{"s":5,"x":4360,"y":1800},{"s":5,"x":4365,"y":1200},{"s":5,"x":4372,"y":700},{"s":5,"x":4381,"y":400},{"s":5,"x":4389,"y":600},
{"s":6,"x":3971,"y":200},{"s":6,"x":3977,"y":300},{"s":6,"x":3983,"y":250},{"s":6,"x":3990,"y":250},{"s":6,"x":4000,"y":200},{"s":6,"x":4010,"y":200},{"s":6,"x":4020,"y":150},{"s":6,"x":4030,"y":150},{"s":6,"x":4040,"y":200},{"s":6,"x":4047,"y":250},{"s":6,"x":4053,"y":300},{"s":6,"x":4060,"y":250},{"s":6,"x":4066,"y":300},{"s":6,"x":4071,"y":400},{"s":6,"x":4076,"y":600},{"s":6,"x":4080,"y":1200},{"s":6,"x":4085,"y":800},{"s":6,"x":4089,"y":400},{"s":6,"x":4092,"y":7000},{"s":6,"x":4095,"y":22000},{"s":6,"x":4099,"y":28000},{"s":6,"x":4103,"y":12000},{"s":6,"x":4106,"y":5000},{"s":6,"x":4109,"y":2000},{"s":6,"x":4113,"y":600},{"s":6,"x":4116,"y":900},{"s":6,"x":4121,"y":1500},{"s":6,"x":4125,"y":1100},{"s":6,"x":4129,"y":600},{"s":6,"x":4135,"y":900},{"s":6,"x":4143,"y":1300},{"s":6,"x":4151,"y":1200},{"s":6,"x":4157,"y":1100},{"s":6,"x":4163,"y":1200},{"s":6,"x":4169,"y":1000},{"s":6,"x":4174,"y":900},{"s":6,"x":4178,"y":1000},{"s":6,"x":4182,"y":1000},{"s":6,"x":4186,"y":900},{"s":6,"x":4191,"y":800},{"s":6,"x":4199,"y":700},{"s":6,"x":4207,"y":600},{"s":6,"x":4215,"y":500},{"s":6,"x":4225,"y":450},{"s":6,"x":4240,"y":600},{"s":6,"x":4255,"y":850},{"s":6,"x":4268,"y":800},{"s":6,"x":4277,"y":900},{"s":6,"x":4284,"y":1200},{"s":6,"x":4290,"y":1400},{"s":6,"x":4294,"y":1400},{"s":6,"x":4298,"y":1400},{"s":6,"x":4302,"y":1400},{"s":6,"x":4306,"y":1300},{"s":6,"x":4312,"y":1200},{"s":6,"x":4318,"y":1000},{"s":6,"x":4324,"y":800},{"s":6,"x":4330,"y":600},{"s":6,"x":4338,"y":400},{"s":6,"x":4345,"y":500},{"s":6,"x":4350,"y":800},{"s":6,"x":4355,"y":1100},{"s":6,"x":4360,"y":1000},{"s":6,"x":4365,"y":800},{"s":6,"x":4372,"y":600},{"s":6,"x":4381,"y":400},{"s":6,"x":4389,"y":500},
{"s":7,"x":3971,"y":300},{"s":7,"x":3977,"y":400},{"s":7,"x":3983,"y":350},{"s":7,"x":3990,"y":300},{"s":7,"x":4000,"y":250},{"s":7,"x":4010,"y":200},{"s":7,"x":4020,"y":200},{"s":7,"x":4030,"y":150},{"s":7,"x":4040,"y":200},{"s":7,"x":4047,"y":250},{"s":7,"x":4053,"y":300},{"s":7,"x":4060,"y":250},{"s":7,"x":4066,"y":300},{"s":7,"x":4071,"y":400},{"s":7,"x":4076,"y":500},{"s":7,"x":4080,"y":600},{"s":7,"x":4085,"y":500},{"s":7,"x":4089,"y":300},{"s":7,"x":4092,"y":9000},{"s":7,"x":4095,"y":26000},{"s":7,"x":4099,"y":30000},{"s":7,"x":4103,"y":18000},{"s":7,"x":4106,"y":9000},{"s":7,"x":4109,"y":4000},{"s":7,"x":4113,"y":1500},{"s":7,"x":4116,"y":700},{"s":7,"x":4121,"y":1000},{"s":7,"x":4125,"y":800},{"s":7,"x":4129,"y":500},{"s":7,"x":4135,"y":700},{"s":7,"x":4143,"y":1000},{"s":7,"x":4151,"y":900},{"s":7,"x":4157,"y":800},{"s":7,"x":4163,"y":900},{"s":7,"x":4169,"y":800},{"s":7,"x":4174,"y":800},{"s":7,"x":4178,"y":800},{"s":7,"x":4182,"y":800},{"s":7,"x":4186,"y":800},{"s":7,"x":4191,"y":700},{"s":7,"x":4199,"y":600},{"s":7,"x":4207,"y":500},{"s":7,"x":4215,"y":400},{"s":7,"x":4225,"y":350},{"s":7,"x":4240,"y":500},{"s":7,"x":4255,"y":700},{"s":7,"x":4268,"y":700},{"s":7,"x":4277,"y":700},{"s":7,"x":4284,"y":1000},{"s":7,"x":4290,"y":1500},{"s":7,"x":4294,"y":1200},{"s":7,"x":4298,"y":1100},{"s":7,"x":4302,"y":1200},{"s":7,"x":4306,"y":1300},{"s":7,"x":4312,"y":1100},{"s":7,"x":4318,"y":900},{"s":7,"x":4324,"y":800},{"s":7,"x":4330,"y":500},{"s":7,"x":4338,"y":300},{"s":7,"x":4345,"y":400},{"s":7,"x":4350,"y":1300},{"s":7,"x":4355,"y":2300},{"s":7,"x":4360,"y":1500},{"s":7,"x":4365,"y":1000},{"s":7,"x":4372,"y":600},{"s":7,"x":4381,"y":350},{"s":7,"x":4389,"y":500}
]
},
"vconcat": [
{
  "width": 953, "height": 317,
  "layer": [
    {"data": {"name": "g0"}, "mark": {"type": "line", "clip": true, "color": "#0000ff", "strokeWidth": 1.1, "interpolate": "monotone"},
     "encoding": {
       "x": {"field": "x", "type": "quantitative", "scale": {"domain": [3970, 4390], "nice": false, "zero": false}, "axis": {"orient": "bottom", "values": [4000,4050,4100,4150,4200,4250,4300,4350], "format": "d", "title": "Mass/Charge", "labelPadding": 18, "titleY": 51, "titleBaseline": "alphabetic"}},
       "y": {"field": "y", "type": "quantitative", "scale": {"domain": [0, 20650], "nice": false}, "axis": {"orient": "left", "values": [0,5000,10000,15000,20000], "labelExpr": "datum.value/10000", "title": "Intensity", "labelPadding": 17, "titleX": -57, "titleBaseline": "middle"}},
       "detail": {"field": "s", "type": "nominal"}
     }},
    {"data": {"name": "pk0"}, "mark": {"type": "rule", "color": "#ff0000", "strokeWidth": 1},
     "encoding": {
       "x": {"field": "x", "type": "quantitative", "scale": {"domain": [3970, 4390], "nice": false, "zero": false}, "axis": {"orient": "top", "values": [4000,4050,4100,4150,4200,4250,4300,4350], "labels": false, "title": null}},
       "y": {"field": "y1", "type": "quantitative", "scale": {"domain": [0, 20650], "nice": false}, "axis": {"orient": "right", "values": [0,5000,10000,15000,20000], "labels": false, "title": null}},
       "y2": {"field": "y2"}
     }},
    {"data": {"name": "lab"}, "mark": {"type": "text", "align": "left", "baseline": "alphabetic", "dy": -10, "fontSize": 20, "font": "Liberation Sans", "color": "#000"},
     "encoding": {
       "x": {"datum": 3970, "type": "quantitative", "axis": null, "scale": {"domain": [3970, 4390], "nice": false, "zero": false}},
       "y": {"datum": 20650, "type": "quantitative", "axis": null, "scale": {"domain": [0, 20650], "nice": false}},
       "text": {"field": "t"}
     }},
    {"data": {"name": "lab"}, "mark": {"type": "text", "align": "left", "baseline": "alphabetic", "dx": 40, "dy": -21, "fontSize": 14, "font": "Liberation Sans", "color": "#000"},
     "encoding": {
       "x": {"datum": 3970, "type": "quantitative", "axis": null, "scale": {"domain": [3970, 4390], "nice": false, "zero": false}},
       "y": {"datum": 20650, "type": "quantitative", "axis": null, "scale": {"domain": [0, 20650], "nice": false}},
       "text": {"field": "e"}
     }},
    {"data": {"name": "lab"}, "mark": {"type": "text", "align": "center", "baseline": "alphabetic", "dy": -19, "fontSize": 20, "font": "Liberation Sans", "color": "#000"},
     "encoding": {
       "x": {"datum": 4180, "type": "quantitative", "axis": null, "scale": {"domain": [3970, 4390], "nice": false, "zero": false}},
       "y": {"datum": 20650, "type": "quantitative", "axis": null, "scale": {"domain": [0, 20650], "nice": false}},
       "text": {"field": "h0"}
     }}
  ],
  "resolve": {"axis": {"x": "independent", "y": "independent"}}
},
{
  "width": 953, "height": 317,
  "layer": [
    {"data": {"name": "g1"}, "mark": {"type": "line", "clip": true, "color": "#0000ff", "strokeWidth": 1.1, "interpolate": "monotone"},
     "encoding": {
       "x": {"field": "x", "type": "quantitative", "scale": {"domain": [3970, 4390], "nice": false, "zero": false}, "axis": {"orient": "bottom", "values": [4000,4050,4100,4150,4200,4250,4300,4350], "format": "d", "title": "Mass/Charge", "labelPadding": 18, "titleY": 51, "titleBaseline": "alphabetic"}},
       "y": {"field": "y", "type": "quantitative", "scale": {"domain": [0, 20650], "nice": false}, "axis": {"orient": "left", "values": [0,5000,10000,15000,20000], "labelExpr": "datum.value/10000", "title": "Intensity", "labelPadding": 17, "titleX": -57, "titleBaseline": "middle"}},
       "detail": {"field": "s", "type": "nominal"}
     }},
    {"data": {"name": "pk1"}, "mark": {"type": "rule", "color": "#ff0000", "strokeWidth": 1},
     "encoding": {
       "x": {"field": "x", "type": "quantitative", "scale": {"domain": [3970, 4390], "nice": false, "zero": false}, "axis": {"orient": "top", "values": [4000,4050,4100,4150,4200,4250,4300,4350], "labels": false, "title": null}},
       "y": {"field": "y1", "type": "quantitative", "scale": {"domain": [0, 20650], "nice": false}, "axis": {"orient": "right", "values": [0,5000,10000,15000,20000], "labels": false, "title": null}},
       "y2": {"field": "y2"}
     }},
    {"data": {"name": "lab"}, "mark": {"type": "text", "align": "left", "baseline": "alphabetic", "dy": -10, "fontSize": 20, "font": "Liberation Sans", "color": "#000"},
     "encoding": {
       "x": {"datum": 3970, "type": "quantitative", "axis": null, "scale": {"domain": [3970, 4390], "nice": false, "zero": false}},
       "y": {"datum": 20650, "type": "quantitative", "axis": null, "scale": {"domain": [0, 20650], "nice": false}},
       "text": {"field": "t"}
     }},
    {"data": {"name": "lab"}, "mark": {"type": "text", "align": "left", "baseline": "alphabetic", "dx": 40, "dy": -21, "fontSize": 14, "font": "Liberation Sans", "color": "#000"},
     "encoding": {
       "x": {"datum": 3970, "type": "quantitative", "axis": null, "scale": {"domain": [3970, 4390], "nice": false, "zero": false}},
       "y": {"datum": 20650, "type": "quantitative", "axis": null, "scale": {"domain": [0, 20650], "nice": false}},
       "text": {"field": "e"}
     }},
    {"data": {"name": "lab"}, "mark": {"type": "text", "align": "center", "baseline": "alphabetic", "dy": -19, "fontSize": 20, "font": "Liberation Sans", "color": "#000"},
     "encoding": {
       "x": {"datum": 4180, "type": "quantitative", "axis": null, "scale": {"domain": [3970, 4390], "nice": false, "zero": false}},
       "y": {"datum": 20650, "type": "quantitative", "axis": null, "scale": {"domain": [0, 20650], "nice": false}},
       "text": {"field": "h1"}
     }}
  ],
  "resolve": {"axis": {"x": "independent", "y": "independent"}}
}
]
}
